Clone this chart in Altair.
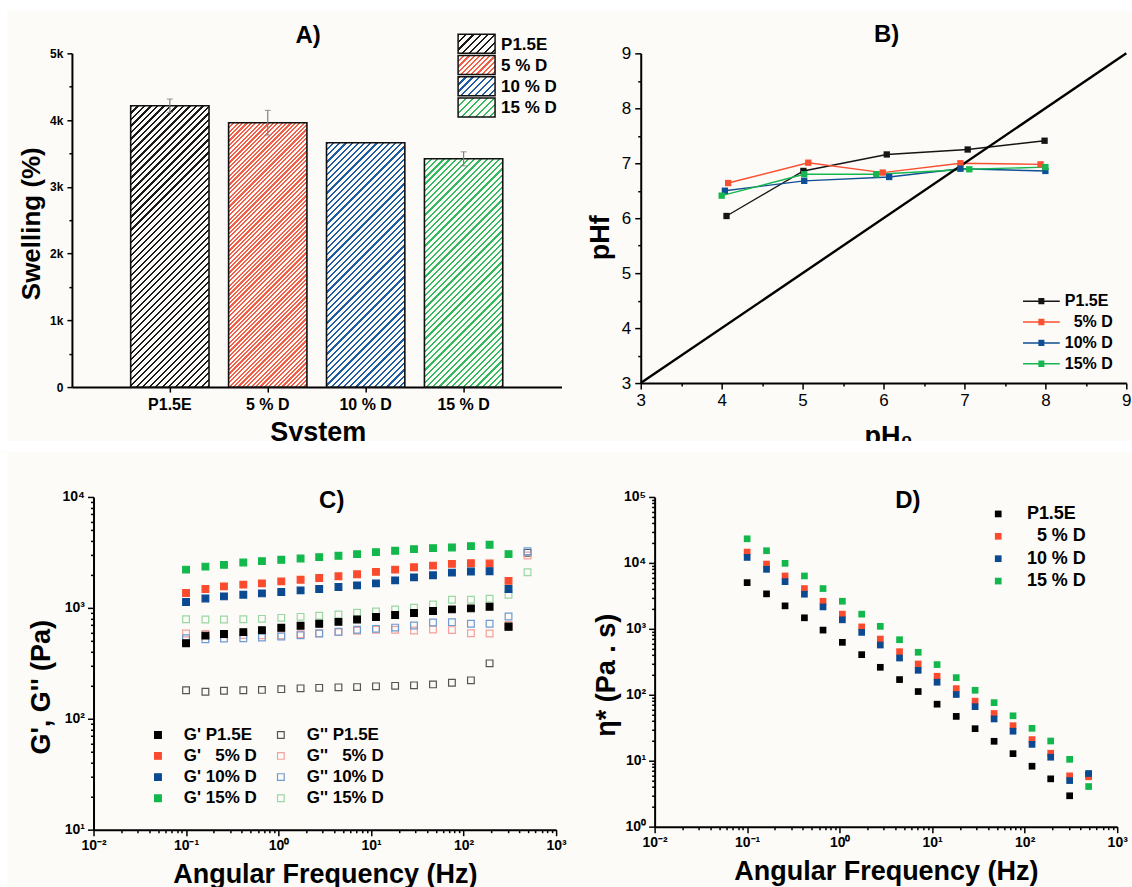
import math
import altair as alt
import pandas as pd

FONT = "Liberation Sans"
BG = "#fcfbf8"
WHITE = "#ffffff"

# ---------------- Panel A : swelling ----------------
systems = ["P1.5E", "5 % D", "10 % D", "15 % D"]
swelling = [4215, 3960, 3660, 3420]
swelling_err = [100, 185, 0, 105]
hatch_colors = ["#1a1a1a", "#f25f49", "#1d5ba3", "#34ba5f"]
hatch_period = [6.5, 4.4, 6.2, 6.2]

# ---------------- Panel B : pH ----------------
ph_series = ["P1.5E", "\u200b\u00a0\u00a05% D", "10% D", "15% D"]
ph_colors = ["#151515", "#fb4f31", "#0f4f95", "#18b64e"]
ph0_p15e = [4.06, 5.01, 6.04, 7.04, 7.99]
phf_p15e = [6.04, 6.86, 7.16, 7.25, 7.41]
ph0_5d = [4.08, 5.07, 5.99, 6.95, 7.94]
phf_5d = [6.64, 7.01, 6.83, 7.00, 6.98]
ph0_10d = [4.04, 5.02, 6.07, 6.95, 8.00]
phf_10d = [6.50, 6.68, 6.75, 6.90, 6.86]
ph0_15d = [4.00, 5.02, 5.91, 7.06, 8.00]
phf_15d = [6.41, 6.80, 6.80, 6.89, 6.93]
diag = [3, 9]

# ---------------- Panel C : G', G'' ----------------
freq = [0.1, 0.162, 0.257, 0.416, 0.661, 1.07, 1.73, 2.75, 4.44, 7.06,
        11.3, 18.2, 29.1, 46.7, 74.8, 120, 191, 306, 491]
gp_p15e = [480, 562, 582, 604, 630, 661, 689, 718, 748, 785, 826, 861, 898, 936, 968, 989, 1023, 679]
gp_5d = [1361, 1479, 1563, 1619, 1664, 1734, 1795, 1860, 1925, 2008, 2109, 2213, 2323, 2405, 2492, 2524, 2508, 1750]
gp_10d = [1128, 1216, 1268, 1314, 1350, 1390, 1439, 1479, 1542, 1596, 1664, 1771, 1884, 1965, 2080, 2124, 2140, 1479]
gp_15d = [2213, 2355, 2442, 2564, 2636, 2711, 2787, 2865, 2946, 3050, 3178, 3268, 3383, 3454, 3502, 3600, 3703, 3050]
gpp_p15e = [181, 175, 179, 181, 182, 185, 188, 190, 192, 193, 196, 198, 200, 204, 211, 222, 316, 670, 3134]
gpp_5d = [587, 582, 578, 570, 567, 567, 578, 591, 604, 621, 634, 634, 624, 638, 630, 591, 587, 700, 2965]
gpp_10d = [532, 521, 528, 532, 540, 551, 567, 587, 608, 634, 647, 664, 693, 738, 743, 718, 718, 836, 3240]
gpp_15d = [790, 785, 785, 790, 796, 813, 830, 848, 871, 903, 927, 968, 1002, 1074, 1183, 1183, 1208, 1314, 2094]
gp_names = ["G' P1.5E", "G' \u00a0\u00a05% D", "G' 10% D", "G' 15% D"]
gpp_names = ["G'' P1.5E", "G'' \u00a0\u00a05% D", "G'' 10% D", "G'' 15% D"]
gp_colors = ["#000000", "#fb4b2e", "#0b4a91", "#12b84b"]
gpp_colors = ["#555555", "#f5a09a", "#6f9bd1", "#9ad7a2"]

# ---------------- Panel D : complex viscosity ----------------
eta_names = ["P1.5E", "\u200b\u00a0\u00a05 % D", "10 % D", "15 % D"]
eta_p15e = [5020, 3390, 2230, 1470, 957, 624, 406, 261, 170, 112, 72, 47, 30.6, 19.7, 12.8, 8.25, 5.31, 2.94, 6.1]
eta_5d = [14600, 9610, 6340, 4080, 2620, 1670, 1070, 700, 451, 293, 191, 124, 80, 52, 34, 20.9, 13.0, 5.9, 5.7]
eta_10d = [12100, 7990, 5200, 3350, 2150, 1370, 883, 568, 361, 235, 155, 101, 66, 43, 28, 17.7, 11.3, 5.0, 6.4]
eta_15d = [23200, 15300, 9840, 6340, 4080, 2620, 1670, 1090, 684, 441, 287, 182, 117, 76, 48, 31, 19.9, 10.5, 4.06]

# ---------------- sizes ----------------
WA, HA = 490, 334
WB, HB = 486, 330
WC, HC = 463, 333
WD, HD = 463, 330


def hatch(color, w, h, period, lw=2.2):
    """Diagonal '/' hatching as a linear gradient in bounding-box units."""
    L = w + h
    a = L / (w * w + h * h)
    stops = []
    pos = 0.0
    while pos < L:
        s0 = round(pos / L, 5)
        s1 = round(min((pos + lw) / L, 1.0), 5)
        s2 = round(min((pos + period) / L, 1.0), 5)
        stops += [{"offset": s0, "color": color}, {"offset": s1, "color": color},
                  {"offset": s1, "color": BG}, {"offset": s2, "color": BG}]
        pos += period
    return {"gradient": "linear", "x1": 0, "y1": 0,
            "x2": round(w * a, 5), "y2": round(h * a, 5), "stops": stops}


def ax(**kw):
    base = dict(grid=False, domainColor="black", domainWidth=2, tickColor="black",
                tickWidth=1.5, labelColor="black", titleColor="black", labelFont=FONT,
                titleFont=FONT, titleFontWeight="bold", labelOverlap=False, labelFlush=False)
    base.update(kw)
    return alt.Axis(**base)


MAJ = "abs(log(datum.value)/LN10 - round(log(datum.value)/LN10)) < 0.001"
SUP = "['10\u207b\u00b2','10\u207b\u00b9','10\u2070','10\u00b9','10\u00b2','10\u00b3','10\u2074','10\u2075']"


def log_values(e0, e1):
    v = []
    for e in range(e0, e1):
        for m in range(1, 10):
            v.append(round(m * 10.0 ** e, 6))
    v.append(10.0 ** e1)
    return v


def log_axis(e0, e1, **kw):
    return ax(values=log_values(e0, e1),
              labelExpr=f"{MAJ} ? {SUP}[round(log(datum.value)/LN10) + 2] : ''",
              tickSize={"condition": {"test": MAJ, "value": 6}, "value": 3},
              labelFontSize=14, labelFontWeight="bold", labelPadding=3, **kw)


def title_text(label, x, y):
    return alt.Chart(pd.DataFrame({"t": [label]})).mark_text(
        font=FONT, fontSize=24, fontWeight="bold", color="black", align="center", baseline="middle"
    ).encode(x=alt.value(x), y=alt.value(y), text="t:N")


def band(x0, x1, y0, y1):
    """White page margin strip (figure framing)."""
    return alt.Chart(pd.DataFrame({"b": [0]})).mark_rect(color=WHITE).encode(
        x=alt.value(x0), x2=alt.value(x1), y=alt.value(y0), y2=alt.value(y1))


# ======================= Panel A =======================
dfA = pd.DataFrame({"system": systems, "swelling": swelling, "err": swelling_err})
sAx = alt.Scale(domain=systems, paddingInner=0.2, paddingOuter=0.6)
sAy = alt.Scale(domain=[0, 5000], nice=False)
axAx = ax(labelFontSize=16, labelFontWeight="bold", labelAngle=0, tickSize=5, labelPadding=4,
          title="System", titleFontSize=27, titleY=53.7, titleX=WA / 2 + 1,
          titleBaseline="alphabetic")
axAy = ax(values=list(range(0, 5001, 500)),
          labelExpr="datum.value % 1000 == 0 ? (datum.value == 0 ? '0' : (datum.value/1000) + 'k') : ''",
          tickSize={"condition": {"test": "datum.value % 1000 == 0", "value": 5}, "value": 3},
          labelFontSize=12, labelFontWeight="bold", labelPadding=4,
          title="Swelling (%)", titleFontSize=26, titleX=-40.7, titleY=HA / 2 + 3,
          titleAngle=270, titleBaseline="middle")
xA = alt.X("system:N", sort=systems, scale=sAx, axis=axAx)

layersA = []
bw = 0.8 * WA / 5
# hatched bars, drawn in a few stacked pieces so each gradient stays short
for i, s in enumerate(systems):
    v = swelling[i]
    h = v / 5000 * HA
    p = hatch_period[i]
    ch = p * round(70 / p)
    n = int(math.ceil(h / ch))
    for k in range(n):
        top_px = k * ch
        bot_px = min((k + 1) * ch + 0.7, h)
        r = {"system": s, "ytop": v * (1 - top_px / h), "ybot": v * (1 - bot_px / h)}
        layersA.append(
            alt.Chart(pd.DataFrame([r]))
            .mark_bar(fill=hatch(hatch_colors[i], bw, bot_px - top_px, p), strokeWidth=0)
            .encode(x=xA, y=alt.Y("ytop:Q", scale=sAy, axis=axAy), y2="ybot:Q")
        )
layersA.append(
    alt.Chart(dfA).mark_bar(fill="transparent", stroke="#111111", strokeWidth=1.6)
    .encode(x=xA, y=alt.Y("swelling:Q", scale=sAy, axis=axAy))
)
errA = (alt.Chart(dfA).transform_filter("datum.err > 0")
        .transform_calculate(lo="datum.swelling - datum.err", hi="datum.swelling + datum.err"))
layersA.append(errA.mark_rule(color="#808080", strokeWidth=1.2).encode(
    x=xA, y=alt.Y("lo:Q", scale=sAy, axis=axAy), y2="hi:Q"))
layersA.append(errA.mark_tick(color="#808080", size=6, thickness=1.2, orient="horizontal").encode(
    x=xA, y=alt.Y("hi:Q", scale=sAy, axis=axAy)))
layersA.append(errA.mark_tick(color="#808080", size=6, thickness=1.2, orient="horizontal").encode(
    x=xA, y=alt.Y("lo:Q", scale=sAy, axis=axAy)))
for i, s in enumerate(systems):
    cy = -9.7 + 21.3 * i
    ldf = pd.DataFrame({"label": [s]})
    layersA.append(alt.Chart(ldf).mark_rect(fill=hatch(hatch_colors[i], 37, 19, hatch_period[i] + 0.8),
                                            stroke="#111111", strokeWidth=1.5)
                   .encode(x=alt.value(386.5), x2=alt.value(423.5), y=alt.value(cy - 9.5), y2=alt.value(cy + 9.5)))
    layersA.append(alt.Chart(ldf).mark_text(align="left", baseline="middle", font=FONT, fontSize=17,
                                            fontWeight="bold", color="black")
                   .encode(x=alt.value(429.5), y=alt.value(cy + 1), text="label:N"))
layersA.append(title_text("A)", 236.3, -17.3))
# page framing strips (top, left, between rows)
layersA += [band(-71.7, 530, -53, -43), band(-71.7, -64.7, -53, 399), band(-71.7, 530, 388, 399)]
panelA = alt.layer(*layersA).properties(width=WA, height=HA)

# ======================= Panel B =======================
rowsB = []
for name, xs, ys in [(ph_series[0], ph0_p15e, phf_p15e), (ph_series[1], ph0_5d, phf_5d),
                     (ph_series[2], ph0_10d, phf_10d), (ph_series[3], ph0_15d, phf_15d)]:
    for x, y in zip(xs, ys):
        rowsB.append({"series": name, "ph0": x, "phf": y})
dfB = pd.DataFrame(rowsB)
sB = alt.Scale(domain=[3, 9], nice=False)
half_vals = [3 + 0.5 * k for k in range(13)]
INT = "datum.value % 1 == 0"
axBx = ax(values=half_vals, labelExpr=f"{INT} ? format(datum.value, 'd') : ''",
          tickSize={"condition": {"test": INT, "value": 6}, "value": 3},
          labelFontSize=17, labelPadding=3, title="pH\u2080", titleFontSize=27,
          titleY=61.5, titleX=WB / 2 + 4.5, titleBaseline="alphabetic")
axBy = ax(values=half_vals, labelExpr=f"{INT} ? format(datum.value, 'd') : ''",
          tickSize={"condition": {"test": INT, "value": 6}, "value": 3},
          labelFontSize=17, labelPadding=4, title="pHf", titleFontSize=27,
          titleX=-40, titleY=184, titleAngle=270, titleBaseline="middle")
xB = alt.X("ph0:Q", scale=sB, axis=axBx)
yB = alt.Y("phf:Q", scale=sB, axis=axBy)

# legend symbol: a line with a small solid square drawn from short strokes
sym_B = ("M-4.6,0H4.6M-0.75,-0.6H0.75M-0.75,-0.3H0.75M-0.75,0H0.75"
         "M-0.75,0.3H0.75M-0.75,0.6H0.75")
legB = alt.Legend(orient="none", legendX=393, legendY=240, title=None,
                  symbolType=sym_B, symbolSize=64, symbolStrokeWidth=1.5,
                  labelFont=FONT, labelFontSize=16, labelFontWeight="bold",
                  labelColor="black", labelOffset=15.5, rowPadding=4.9, padding=0)
colB = alt.Color("series:N", scale=alt.Scale(domain=ph_series, range=ph_colors), legend=legB)
linesB = alt.Chart(dfB).mark_line(strokeWidth=1.4).encode(x=xB, y=yB, color=colB)
ptsB = alt.Chart(dfB).mark_point(shape="square", size=40, filled=True, opacity=1).encode(
    x=xB, y=yB, color=colB)
diagB = alt.Chart(pd.DataFrame({"ph0": diag, "phf": diag})).mark_line(color="black", strokeWidth=2.4).encode(
    x=xB, y=yB)
panelB = alt.layer(linesB, diagB, ptsB, title_text("B)", 246, -18),
                   band(-81, 491, -53, -43), band(-81, 491, 388, 399)).properties(width=WB, height=HB)

# ======================= Panel C =======================
rowsC = []
for names, lists in [(gpp_names, [gpp_p15e, gpp_5d, gpp_10d, gpp_15d]),
                     (gp_names, [gp_p15e, gp_5d, gp_10d, gp_15d])]:
    for name, vals in zip(names, lists):
        for f, v in zip(freq, vals):
            rowsC.append({"series": name, "f": f, "g": v})
dfC = pd.DataFrame(rowsC)
c_domain = gp_names + gpp_names
c_fill = gp_colors + ["transparent"] * 4
c_stroke = gp_colors + gpp_colors
legC = alt.Legend(orient="none", legendX=56, legendY=229.5, title=None, columns=2,
                  columnPadding=15, symbolType="square", symbolSize=45, symbolStrokeWidth=1.2,
                  labelFont=FONT, labelFontSize=17, labelFontWeight="bold", labelColor="black",
                  labelOffset=17.4, rowPadding=3.2, padding=0)
axCx = log_axis(-2, 3, title="Angular Frequency (Hz)", titleFontSize=27, titleY=53,
                titleX=WC / 2, titleBaseline="alphabetic")
axCy = log_axis(1, 4, title="G', G'' (Pa)", titleFontSize=27, titleX=-52, titleY=190,
                titleAngle=270, titleBaseline="middle")
ptsC = alt.Chart(dfC).mark_point(shape="square", size=45, opacity=1, strokeWidth=1.2).encode(
    x=alt.X("f:Q", scale=alt.Scale(type="log", domain=[0.01, 1000], nice=False), axis=axCx),
    y=alt.Y("g:Q", scale=alt.Scale(type="log", domain=[10, 10000], nice=False), axis=axCy),
    fill=alt.Fill("series:N", scale=alt.Scale(domain=c_domain, range=c_fill), legend=legC),
    stroke=alt.Stroke("series:N", scale=alt.Scale(domain=c_domain, range=c_stroke), legend=legC),
)
panelC = alt.layer(ptsC, title_text("C)", 238.4, 3.7),
                   band(-93.3, -86.3, -44.3, 390.7)).properties(width=WC, height=HC)

# ======================= Panel D =======================
rowsD = []
for name, vals in zip(eta_names, [eta_p15e, eta_5d, eta_10d, eta_15d]):
    for f, v in zip(freq, vals):
        rowsD.append({"series": name, "f": f, "eta": v})
dfD = pd.DataFrame(rowsD)
legD = alt.Legend(orient="none", legendX=334.9, legendY=8, title=None, symbolType="square",
                  symbolSize=45, labelFont=FONT, labelFontSize=18, labelFontWeight="bold",
                  labelColor="black", labelOffset=19.7, rowPadding=4.4, padding=0)
axDx = log_axis(-2, 3, title="Angular Frequency (Hz)", titleFontSize=27, titleY=53,
                titleX=WD / 2, titleBaseline="alphabetic")
axDy = log_axis(0, 5, title="\u03b7* (Pa . s)", titleFontSize=27, titleX=-48, titleY=178,
                titleAngle=270, titleBaseline="middle")
ptsD = alt.Chart(dfD).mark_square(size=45, opacity=1).encode(
    x=alt.X("f:Q", scale=alt.Scale(type="log", domain=[0.01, 1000], nice=False), axis=axDx),
    y=alt.Y("eta:Q", scale=alt.Scale(type="log", domain=[1, 100000], nice=False), axis=axDy),
    color=alt.Color("series:N", scale=alt.Scale(domain=eta_names, range=gp_colors), legend=legD),
)
panelD = alt.layer(ptsD, title_text("D)", 253.4, 3.7)).properties(width=WD, height=HD)

IND = dict(color="independent", fill="independent", stroke="independent")
spacer = alt.Chart(pd.DataFrame({"a": [0]})).mark_point(opacity=0, size=1).encode(
    x=alt.value(0), y=alt.value(0)).properties(width=1, height=1)
top = alt.hconcat(panelA, panelB, spacing=79.3, bounds="flush").resolve_scale(**IND).resolve_legend(**IND)
cd = alt.hconcat(panelC, panelD, spacing=98.6, bounds="flush").resolve_scale(**IND).resolve_legend(**IND)
bottom = alt.hconcat(spacer, cd, spacing=20.6, bounds="flush").resolve_scale(**IND).resolve_legend(**IND)
chart = alt.vconcat(top, bottom, spacing=0).resolve_scale(**IND).resolve_legend(**IND).properties(
    padding={"left": 0, "top": 0, "right": 0, "bottom": 0},
).configure(background=BG, font=FONT).configure_view(stroke=None)

chart.save("out.html", embed_options={"renderer": "svg", "actions": False})
